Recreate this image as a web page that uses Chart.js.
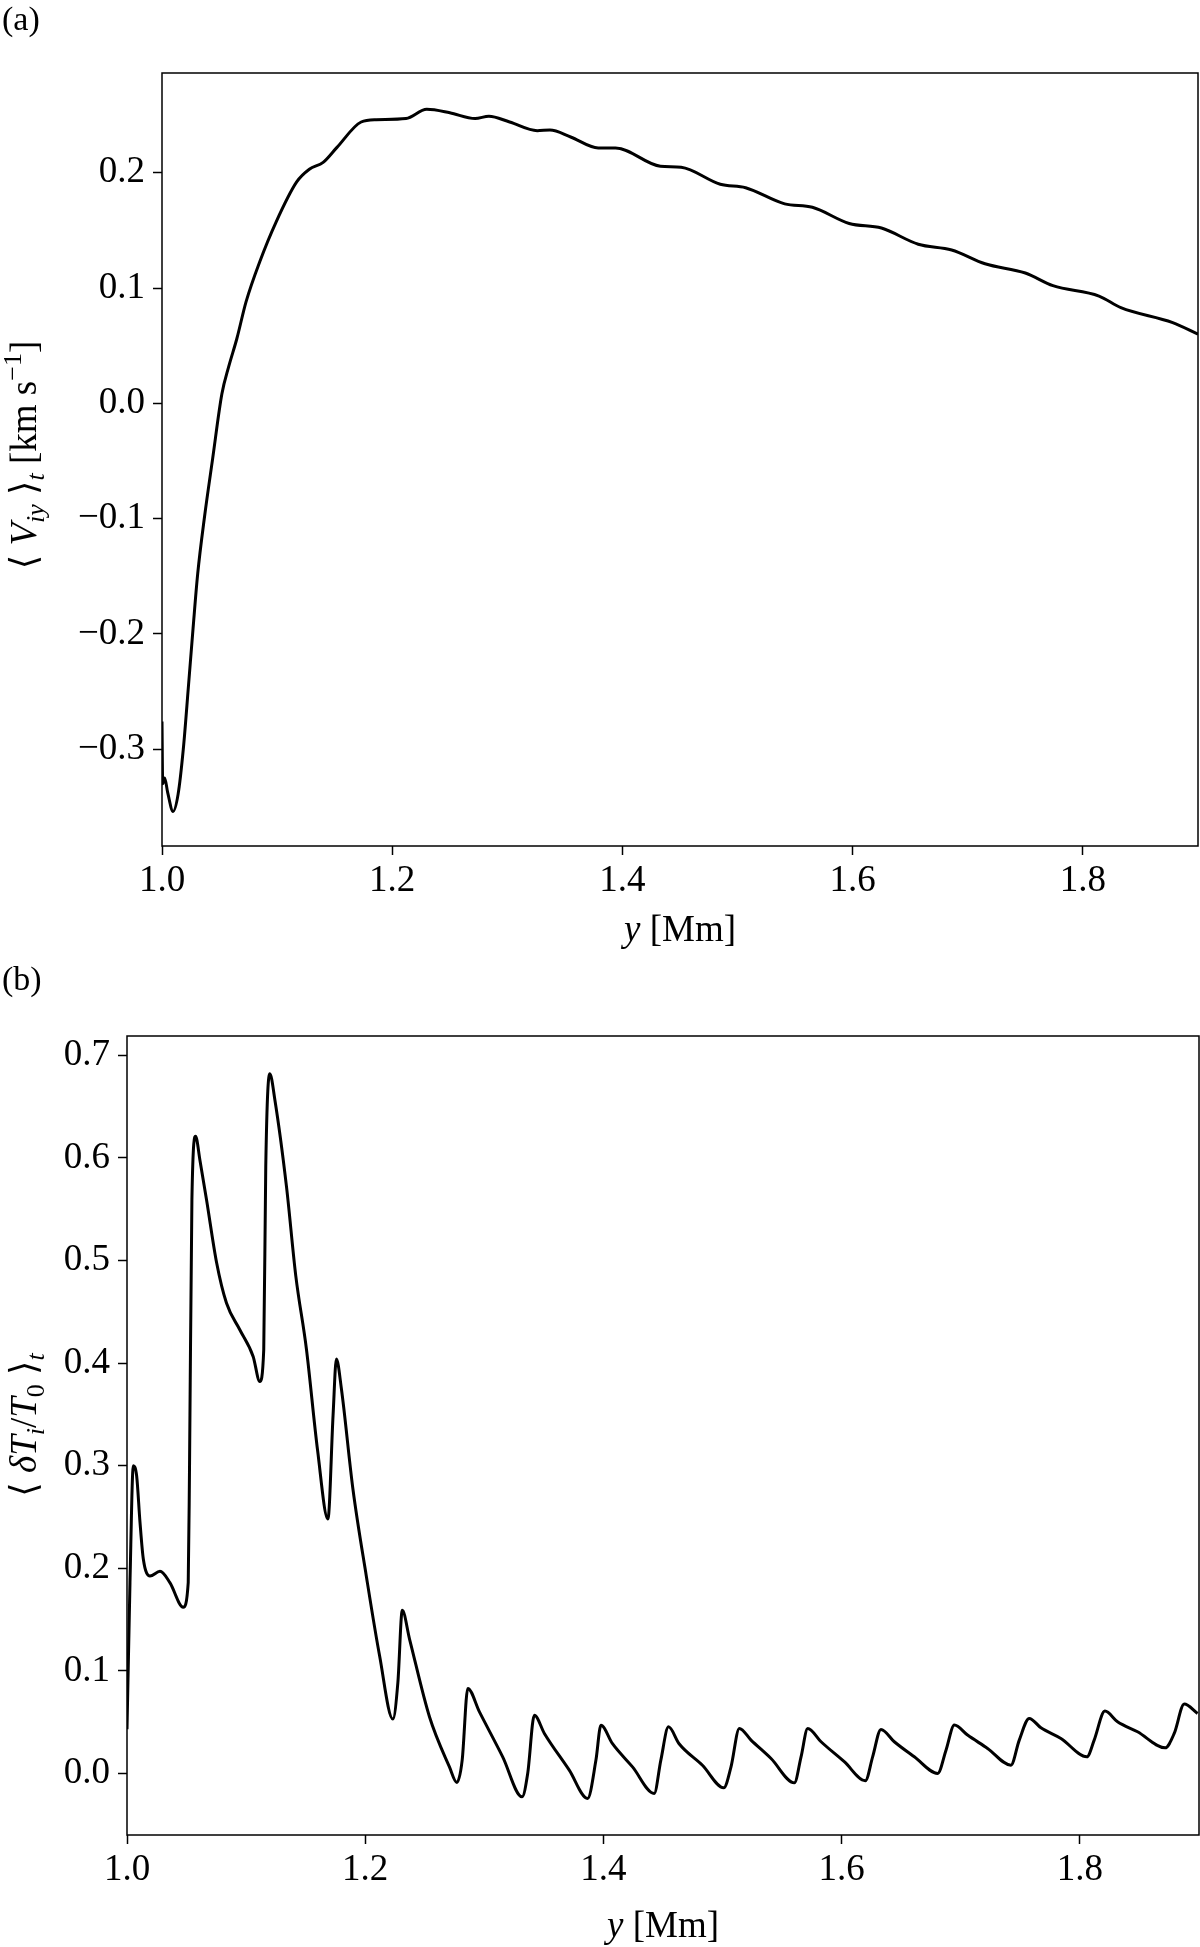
<!doctype html>
<html lang="en">
<head>
<meta charset="utf-8">
<title>Vy and dT profiles</title>
<script src="https://cdn.jsdelivr.net/npm/chart.js"></script>
<style>
  html, body { margin: 0; padding: 0; background: #fff; }
  .panel { position: absolute; left: 0; }
</style>
</head>
<body>
<div class="panel" style="top:0"><canvas id="chart-a" width="1200" height="960"></canvas></div>
<div class="panel" style="top:960px"><canvas id="chart-b" width="1200" height="987"></canvas></div>
<script>
// panel (a): <V_iy>_t against y [Mm]
const posA = [1.000, 1.0006, 1.0023, 1.005, 1.0096, 1.014, 1.0185, 1.023, 1.027, 1.031, 1.037, 1.044, 1.052,
  1.058, 1.065, 1.073, 1.085, 1.099, 1.117, 1.128, 1.140, 1.152, 1.173, 1.186, 1.212, 1.230, 1.250, 1.272, 1.284,
  1.302, 1.326, 1.337, 1.355, 1.379, 1.394, 1.433, 1.451, 1.485, 1.507, 1.541, 1.565, 1.597, 1.625, 1.657,
  1.686, 1.715, 1.750, 1.774, 1.814, 1.833, 1.878, 1.900];
const vyA = [-0.276, -0.330, -0.325, -0.338, -0.354, -0.339, -0.300, -0.245, -0.195, -0.148, -0.098, -0.048, 0.008,
  0.032, 0.056, 0.088, 0.123, 0.157, 0.192, 0.203, 0.209, 0.222, 0.244, 0.246, 0.247, 0.255, 0.252, 0.247, 0.249,
  0.244, 0.2365, 0.237, 0.231, 0.2215, 0.2215, 0.2056, 0.2047, 0.190, 0.187, 0.173, 0.170, 0.156, 0.152, 0.138,
  0.133, 0.121, 0.113, 0.102, 0.093, 0.083, 0.070, 0.060];

// panel (b): <dT_i/T_0>_t against y [Mm]
const posB = [1.0000, 1.0025, 1.0053, 1.0081, 1.0109, 1.0137, 1.0193, 1.0277, 1.036, 1.0472, 1.0514, 1.0525,
  1.0545, 1.0576, 1.0612, 1.0668, 1.0752, 1.0835, 1.0947, 1.1059, 1.1115, 1.1148, 1.1165, 1.1199, 1.1241,
  1.1339, 1.1417, 1.1506, 1.1600, 1.1687, 1.173, 1.1758, 1.18, 1.1897, 1.2009, 1.2121, 1.2232, 1.2274, 1.2311,
  1.2372, 1.254, 1.2707, 1.2769, 1.2814, 1.2861, 1.2959, 1.3154, 1.3317, 1.3364, 1.342, 1.3504, 1.3713, 1.3867,
  1.3937, 1.3979, 1.4076, 1.4244, 1.4426, 1.4482, 1.4546, 1.4635, 1.4831, 1.5010, 1.5071, 1.5141, 1.5239,
  1.5407, 1.5603, 1.5659, 1.5715, 1.5827, 1.6022, 1.6199, 1.626, 1.633, 1.6442, 1.661, 1.6806, 1.6876, 1.6946,
  1.7057, 1.7225, 1.7421, 1.7491, 1.7575, 1.7673, 1.7841, 1.8059, 1.812, 1.821, 1.8316, 1.8484, 1.8716, 1.8792,
  1.8876, 1.8988];
const dtB = [0.043, 0.186, 0.300, 0.290, 0.245, 0.209, 0.1925, 0.197, 0.186, 0.162, 0.186, 0.300,
  0.560, 0.621, 0.598, 0.559, 0.498, 0.4585, 0.4325, 0.4065, 0.382, 0.413, 0.592, 0.682, 0.657,
  0.572, 0.485, 0.414, 0.315, 0.248, 0.349, 0.404, 0.375, 0.277, 0.1925, 0.1145, 0.053, 0.0885, 0.159,
  0.131, 0.055, 0.0064, -0.0088, 0.013, 0.0828, 0.060, 0.0162, -0.0228, 0.0, 0.0568, 0.039, 0.0032, -0.0244,
  0.013, 0.047, 0.029, 0.0064, -0.0195, 0.013, 0.0454, 0.029, 0.008, -0.0140, 0.0065, 0.0439, 0.0325,
  0.0146, -0.0091, 0.0162, 0.0439, 0.0309, 0.0114, -0.0071, 0.0162, 0.0429, 0.0309, 0.0162, 0.0, 0.0227, 0.0471,
  0.0374, 0.0244, 0.0081, 0.0325, 0.0536, 0.0445, 0.0341, 0.0162, 0.0325, 0.0608, 0.0504, 0.0406, 0.025, 0.039,
  0.0676, 0.0585];

const xTicks = [1.0, 1.2, 1.4, 1.6, 1.8];
const yTicksA = [-0.3, -0.2, -0.1, 0.0, 0.1, 0.2];
const yTicksB = [0.0, 0.1, 0.2, 0.3, 0.4, 0.5, 0.6, 0.7];

const SERIF = '"Liberation Serif", "DejaVu Serif", serif';

function fmt(v){
    const s = Math.abs(v).toFixed(1);
    return (v < -1e-9 ? '\u2212' : '') + s;
}

// draws a label made of pieces (italic / sub / sup), centred on cx,cy
function drawRich(ctx, parts, cx, cy, rotate){
    const size = 37;
    ctx.save();
    ctx.translate(cx, cy);
    if(rotate) ctx.rotate(-Math.PI/2);
    ctx.fillStyle = '#000';
    ctx.textBaseline = 'alphabetic';
    let total = 0;
    parts.forEach(p => {
        const fs = (p.sub || p.sup) ? Math.round(size*0.7) : size;
        p.font = (p.it ? 'italic ' : '') + fs + 'px ' + SERIF;
        ctx.font = p.font;
        p.w = ctx.measureText(p.t).width;
        total += p.w;
    });
    let x = -total/2;
    const base = size*0.33;
    parts.forEach(p => {
        ctx.font = p.font;
        let dy = 0;
        if(p.sub) dy = 8;
        if(p.sup) dy = -15;
        ctx.fillText(p.t, x, base + dy);
        x += p.w;
    });
    ctx.restore();
}

function makeChart(id, xs, ys, opt){
    const ctx = document.querySelector('canvas#' + id);
    const framePlugin = {
        id: 'frame',
        afterDraw(chart){
            const c = chart.ctx, a = chart.chartArea;
            c.save();
            c.strokeStyle = '#000';
            c.lineWidth = 1.5;
            c.strokeRect(a.left, a.top, a.right - a.left, a.bottom - a.top);
            c.fillStyle = '#000';
            c.font = '34px ' + SERIF;
            c.textBaseline = 'top';
            c.textAlign = 'left';
            c.fillText(opt.tag, 2, 4);
            c.restore();
            drawRich(c, [{t:'y', it:true}, {t:' [Mm]'}], (a.left + a.right)/2, opt.xTitleY, false);
            drawRich(c, opt.yTitle, 24, opt.yTitleY, true);
        }
    };
    return new Chart(ctx, {
        type: 'line',
        data: {
            datasets: [{
                data: xs.map((x, i) => ({x: x, y: ys[i]})),
                borderColor: '#000',
                borderWidth: 3,
                pointRadius: 0,
                cubicInterpolationMode: 'monotone',
                fill: false
            }]
        },
        options: {
            responsive: false,
            animation: false,
            devicePixelRatio: 1,
            events: [],
            layout: { padding: { top: opt.top, right: opt.right, left: 0, bottom: 0 } },
            plugins: { legend: { display: false }, tooltip: { enabled: false } },
            scales: {
                x: {
                    type: 'linear',
                    min: 1.0,
                    max: 1.9,
                    afterBuildTicks: s => { s.ticks = xTicks.map(v => ({value: v})); },
                    afterFit: s => { s.height = opt.xHeight; },
                    border: { display: false },
                    grid: { drawOnChartArea: false, drawTicks: true, tickLength: 9, tickColor: '#000', tickWidth: 1.5 },
                    ticks: { color: '#000', font: { family: SERIF, size: 37 }, padding: 4, maxRotation: 0,
                             callback: v => v.toFixed(1) }
                },
                y: {
                    min: opt.yMin,
                    max: opt.yMax,
                    afterBuildTicks: s => { s.ticks = opt.yTicks.map(v => ({value: v})); },
                    afterFit: s => { s.width = opt.yWidth; },
                    border: { display: false },
                    grid: { drawOnChartArea: false, drawTicks: true, tickLength: 9, tickColor: '#000', tickWidth: 1.5 },
                    ticks: { color: '#000', font: { family: SERIF, size: 37 }, padding: 8,
                             callback: v => fmt(v) }
                }
            }
        },
        plugins: [framePlugin]
    });
}

window.addEventListener('load', () => {
    window.chartA = makeChart('chart-a', posA, vyA, {
        tag: '(a)', top: 73, right: 2, xHeight: 114, yWidth: 162,
        yMin: -0.384, yMax: 0.2865, yTicks: yTicksA,
        xTitleY: 929, yTitleY: 455,
        yTitle: [{t:'\u27E8 '}, {t:'V', it:true}, {t:'iy', it:true, sub:true}, {t:' \u27E9'}, {t:'t', it:true, sub:true},
                 {t:' [km s'}, {t:'\u22121', sup:true}, {t:']'}]
    });
    window.chartB = makeChart('chart-b', posB, dtB, {
        tag: '(b)', top: 76, right: 1, xHeight: 112, yWidth: 127,
        yMin: -0.060, yMax: 0.7188, yTicks: yTicksB,
        xTitleY: 965, yTitleY: 465,
        yTitle: [{t:'\u27E8 '}, {t:'\u03B4T', it:true}, {t:'i', it:true, sub:true}, {t:'/'}, {t:'T', it:true},
                 {t:'0', sub:true}, {t:' \u27E9'}, {t:'t', it:true, sub:true}]
    });
});
</script>
</body>
</html>
